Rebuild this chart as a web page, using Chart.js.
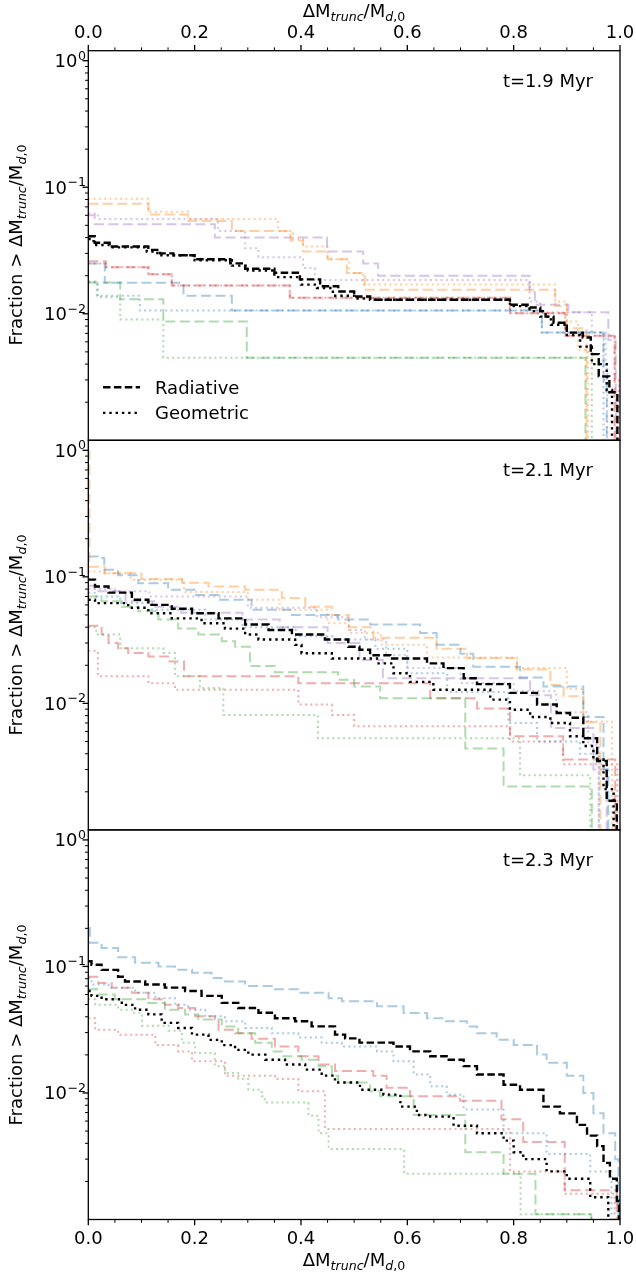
<!DOCTYPE html>
<html>
<head>
<meta charset="utf-8">
<script src="https://cdn.jsdelivr.net/npm/chart.js@4.4.0/dist/chart.umd.min.js"></script>
<style>
  html, body { margin: 0; padding: 0; background: #fff; }
  body { width: 636px; height: 1274px; position: relative; overflow: hidden;
         font-family: "DejaVu Sans", sans-serif; color: #000; }
  canvas { position: absolute; left: 0; }
  .lbl { position: absolute; font-size: 18px; line-height: 20px; white-space: nowrap; }
  .xt { transform: translateX(-50%); }
  .yt { transform: translate(-50%, -50%) rotate(-90deg); }
  .s { font-size: 0.7em; position: relative; top: 0.3em; }
  .i { font-style: italic; }
</style>
</head>
<body>
<canvas id="p1" width="636" height="450" style="top:0px"></canvas>
<canvas id="p2" width="636" height="410" style="top:430px"></canvas>
<canvas id="p3" width="636" height="454" style="top:820px"></canvas>

<div class="lbl xt" style="left:354px; top:1px">ΔM<span class="s i">trunc</span>/M<span class="s"><span class="i">d</span>,0</span></div>
<div class="lbl xt" style="left:354px; top:1250px">ΔM<span class="s i">trunc</span>/M<span class="s"><span class="i">d</span>,0</span></div>
<div class="lbl yt" style="left:17px; top:245px">Fraction &gt; ΔM<span class="s i">trunc</span>/M<span class="s"><span class="i">d</span>,0</span></div>
<div class="lbl yt" style="left:17px; top:635px">Fraction &gt; ΔM<span class="s i">trunc</span>/M<span class="s"><span class="i">d</span>,0</span></div>
<div class="lbl yt" style="left:17px; top:1025px">Fraction &gt; ΔM<span class="s i">trunc</span>/M<span class="s"><span class="i">d</span>,0</span></div>

<script>
// 축 범위와 눈금
const Y_MIN = 0.001;
const Y_MAX = 1.2;
const X_LABEL_TICKS = [0, 0.2, 0.4, 0.6, 0.8, 1.0];
const Y_LABEL_TICKS = [1, 0.1, 0.01];
const PANEL_TIMES = ["t=1.9 Myr", "t=2.1 Myr", "t=2.3 Myr"];
const LEGEND_NAMES = ["Radiative", "Geometric"];

// 각 곡선: [ΔM/M 시작점, 그 구간의 비율] 계단 데이터
// ---- t = 1.9 Myr ----
const T19_RAD_BLACK = [[0,0.041],[0.012,0.0364],[0.04,0.034],[0.113,0.032],[0.135,0.030],[0.16,0.029],[0.2,0.027],[0.267,0.025],[0.295,0.0227],[0.35,0.0211],[0.398,0.0187],[0.436,0.0165],[0.47,0.015],[0.5,0.0137],[0.53,0.0129],[0.793,0.0118],[0.83,0.0112],[0.85,0.0105],[0.86,0.0095],[0.875,0.0085],[0.9,0.0071],[0.93,0.0065],[0.945,0.0048],[0.96,0.0032],[0.98,0.0024],[0.995,0.001]];
const T19_GEO_BLACK = [[0,0.039],[0.01,0.035],[0.04,0.0335],[0.11,0.031],[0.13,0.029],[0.2,0.0265],[0.27,0.024],[0.3,0.022],[0.35,0.0195],[0.4,0.017],[0.43,0.016],[0.46,0.0139],[0.5,0.0132],[0.53,0.0129],[0.793,0.0115],[0.83,0.0105],[0.85,0.0095],[0.87,0.0082],[0.9,0.0068],[0.925,0.0055],[0.947,0.004],[0.975,0.0025],[0.985,0.001]];
const T19_RAD_BLUE = [[0,0.025],[0.031,0.0176],[0.179,0.0139],[0.27,0.0106],[0.853,0.0071],[0.969,0.003],[0.975,0.001]];
const T19_GEO_BLUE = [[0,0.018],[0.016,0.0139],[0.097,0.0106],[0.853,0.0071],[0.969,0.001]];
const T19_RAD_ORANGE = [[0,0.074],[0.113,0.061],[0.188,0.054],[0.27,0.045],[0.38,0.038],[0.404,0.031],[0.45,0.027],[0.486,0.021],[0.52,0.0155],[0.878,0.0115],[0.9,0.0077],[0.937,0.001]];
const T19_GEO_ORANGE = [[0,0.081],[0.113,0.064],[0.188,0.056],[0.357,0.045],[0.385,0.039],[0.404,0.034],[0.45,0.027],[0.49,0.021],[0.517,0.017],[0.878,0.0125],[0.9,0.0087],[0.921,0.0052],[0.94,0.001]];
const T19_RAD_GREEN = [[0,0.0177],[0.06,0.013],[0.141,0.0087],[0.298,0.0045],[0.935,0.001]];
const T19_GEO_GREEN = [[0,0.0177],[0.018,0.0135],[0.06,0.009],[0.141,0.0045],[0.947,0.001]];
const T19_RAD_RED = [[0,0.026],[0.033,0.0233],[0.113,0.0205],[0.157,0.0167],[0.379,0.0134],[0.793,0.0101],[0.897,0.0067],[0.99,0.001]];
const T19_GEO_RED = [[0,0.025],[0.033,0.0233],[0.113,0.0205],[0.157,0.0167],[0.379,0.0134],[0.793,0.0101],[0.897,0.0067],[0.99,0.003],[0.998,0.001]];
const T19_RAD_PURPLE = [[0,0.06],[0.012,0.051],[0.238,0.040],[0.449,0.031],[0.517,0.025],[0.545,0.020],[0.83,0.0148],[0.84,0.0118],[0.903,0.0103],[0.978,0.0062],[0.992,0.001]];
const T19_GEO_PURPLE = [[0,0.062],[0.018,0.056],[0.244,0.045],[0.295,0.033],[0.32,0.028],[0.404,0.023],[0.426,0.0185],[0.83,0.0125],[0.85,0.0103],[0.947,0.0071],[0.973,0.004],[0.976,0.001]];

// ---- t = 2.1 Myr ----
const T21_RAD_BLACK = [[0,0.095],[0.0126,0.084],[0.038,0.075],[0.082,0.066],[0.113,0.060],[0.157,0.056],[0.195,0.0515],[0.245,0.047],[0.295,0.042],[0.339,0.038],[0.383,0.035],[0.445,0.032],[0.489,0.028],[0.51,0.0265],[0.53,0.024],[0.568,0.0226],[0.637,0.0207],[0.668,0.019],[0.706,0.0158],[0.731,0.0142],[0.793,0.0121],[0.844,0.0098],[0.881,0.0084],[0.906,0.0077],[0.931,0.0053],[0.957,0.0035],[0.975,0.0017],[0.994,0.001]];
const T21_GEO_BLACK = [[0,0.066],[0.0126,0.062],[0.075,0.057],[0.113,0.0515],[0.157,0.047],[0.213,0.043],[0.257,0.039],[0.295,0.035],[0.32,0.032],[0.389,0.029],[0.401,0.0249],[0.458,0.0226],[0.543,0.0207],[0.574,0.0173],[0.605,0.0148],[0.649,0.0128],[0.756,0.0107],[0.793,0.0089],[0.831,0.0078],[0.869,0.007],[0.906,0.0055],[0.931,0.0046],[0.95,0.0036],[0.969,0.0021],[0.988,0.001]];
const T21_RAD_BLUE = [[0,0.145],[0.018,0.141],[0.03,0.114],[0.056,0.103],[0.094,0.089],[0.15,0.079],[0.2,0.072],[0.245,0.066],[0.307,0.055],[0.383,0.050],[0.47,0.046],[0.53,0.042],[0.624,0.036],[0.655,0.029],[0.7,0.0247],[0.724,0.0195],[0.812,0.016],[0.856,0.0136],[0.931,0.0078],[0.969,0.003],[0.978,0.001]];
const T21_GEO_BLUE = [[0,0.075],[0.015,0.07],[0.06,0.062],[0.12,0.055],[0.22,0.046],[0.29,0.04],[0.39,0.034],[0.46,0.032],[0.54,0.027],[0.6,0.0173],[0.675,0.0123],[0.79,0.007],[0.844,0.005],[0.925,0.004],[0.96,0.001]];
const T21_RAD_ORANGE = [[0.002,1.0],[0.002,0.12],[0.031,0.107],[0.1,0.096],[0.176,0.09],[0.226,0.084],[0.295,0.079],[0.364,0.068],[0.408,0.058],[0.458,0.05],[0.49,0.04],[0.536,0.033],[0.655,0.027],[0.712,0.0228],[0.806,0.0185],[0.869,0.014],[0.894,0.0114],[0.931,0.0071],[0.963,0.001]];
const T21_GEO_ORANGE = [[0,0.11],[0.03,0.107],[0.08,0.095],[0.18,0.076],[0.3,0.066],[0.36,0.055],[0.45,0.043],[0.49,0.036],[0.55,0.029],[0.637,0.023],[0.806,0.019],[0.9,0.013],[0.931,0.0072],[0.985,0.001]];
const T21_RAD_GREEN = [[0,0.07],[0.025,0.064],[0.063,0.058],[0.094,0.0535],[0.132,0.046],[0.169,0.039],[0.207,0.035],[0.251,0.031],[0.276,0.028],[0.304,0.0197],[0.351,0.0176],[0.47,0.0154],[0.5,0.0136],[0.549,0.011],[0.709,0.0044],[0.781,0.0022],[0.947,0.001]];
const T21_GEO_GREEN = [[0,0.04],[0.015,0.035],[0.06,0.0273],[0.141,0.025],[0.163,0.0164],[0.21,0.0132],[0.254,0.0081],[0.432,0.0053],[0.812,0.0027],[0.944,0.001]];
const T21_RAD_RED = [[0,0.041],[0.025,0.035],[0.038,0.030],[0.056,0.0273],[0.075,0.025],[0.113,0.0235],[0.15,0.0214],[0.18,0.0164],[0.395,0.0144],[0.643,0.011],[0.731,0.0091],[0.793,0.0055],[0.893,0.0036],[0.991,0.001]];
const T21_GEO_RED = [[0,0.026],[0.018,0.0164],[0.113,0.0144],[0.163,0.0128],[0.395,0.0098],[0.458,0.0081],[0.5,0.0066],[0.793,0.005],[0.893,0.0033],[0.995,0.001]];
const T21_RAD_PURPLE = [[0,0.085],[0.012,0.077],[0.07,0.064],[0.124,0.058],[0.175,0.052],[0.29,0.046],[0.36,0.040],[0.45,0.030],[0.51,0.022],[0.554,0.0158],[0.831,0.0116],[0.87,0.0064],[0.95,0.003],[0.975,0.001]];
const T21_GEO_PURPLE = [[0,0.08],[0.05,0.077],[0.115,0.07],[0.3,0.057],[0.43,0.048],[0.49,0.038],[0.52,0.032],[0.56,0.024],[0.6,0.019],[0.7,0.0145],[0.8,0.0125],[0.88,0.0085],[0.94,0.0047],[0.96,0.001]];

// ---- t = 2.3 Myr (주황·보라 없음) ----
const T23_RAD_BLACK = [[0,0.11],[0.006,0.103],[0.025,0.094],[0.056,0.083],[0.069,0.076],[0.107,0.072],[0.144,0.068],[0.182,0.064],[0.213,0.0585],[0.251,0.0515],[0.282,0.047],[0.32,0.043],[0.351,0.039],[0.389,0.0369],[0.42,0.0336],[0.464,0.0289],[0.483,0.027],[0.51,0.025],[0.574,0.0233],[0.605,0.0213],[0.643,0.0195],[0.674,0.0183],[0.706,0.0163],[0.731,0.014],[0.781,0.0116],[0.812,0.0106],[0.856,0.0078],[0.887,0.0069],[0.919,0.0056],[0.938,0.0046],[0.957,0.0038],[0.969,0.0028],[0.981,0.0021],[0.994,0.0014],[0.998,0.001]];
const T23_GEO_BLACK = [[0,0.064],[0.006,0.0585],[0.025,0.055],[0.063,0.0497],[0.088,0.0455],[0.113,0.0418],[0.138,0.0358],[0.169,0.0326],[0.195,0.0289],[0.226,0.0263],[0.251,0.0239],[0.276,0.0219],[0.301,0.0201],[0.333,0.0183],[0.37,0.0168],[0.408,0.0153],[0.439,0.0137],[0.464,0.0121],[0.511,0.0106],[0.555,0.0097],[0.587,0.0078],[0.618,0.0067],[0.643,0.0065],[0.687,0.0055],[0.731,0.0048],[0.781,0.0042],[0.8,0.0034],[0.818,0.003],[0.862,0.0024],[0.9,0.0021],[0.944,0.0015],[0.978,0.001]];
const T23_RAD_BLUE = [[0,0.2],[0.003,0.154],[0.025,0.14],[0.056,0.118],[0.088,0.107],[0.132,0.1],[0.163,0.094],[0.195,0.089],[0.232,0.081],[0.257,0.076],[0.295,0.07],[0.345,0.066],[0.395,0.062],[0.452,0.056],[0.477,0.0532],[0.543,0.0484],[0.593,0.0428],[0.637,0.0389],[0.668,0.0369],[0.712,0.0336],[0.731,0.0296],[0.768,0.0263],[0.8,0.0239],[0.844,0.0201],[0.862,0.0173],[0.9,0.0137],[0.931,0.01],[0.95,0.0069],[0.969,0.0048],[0.991,0.003],[0.997,0.001]];
const T23_GEO_BLUE = [[0,0.081],[0.006,0.072],[0.038,0.068],[0.088,0.062],[0.126,0.056],[0.163,0.0497],[0.188,0.0455],[0.22,0.0404],[0.257,0.0369],[0.295,0.0326],[0.345,0.0296],[0.395,0.0275],[0.439,0.0249],[0.477,0.0233],[0.543,0.0213],[0.574,0.0178],[0.612,0.014],[0.643,0.0113],[0.674,0.0097],[0.706,0.0074],[0.781,0.0048],[0.862,0.0033],[0.944,0.0024],[0.984,0.001]];
const T23_RAD_RED = [[0,0.083],[0.019,0.074],[0.044,0.068],[0.082,0.062],[0.113,0.055],[0.144,0.0497],[0.169,0.047],[0.201,0.0404],[0.238,0.038],[0.245,0.0316],[0.276,0.0296],[0.307,0.0268],[0.351,0.0233],[0.395,0.0195],[0.433,0.0168],[0.464,0.0149],[0.536,0.0137],[0.561,0.011],[0.605,0.0094],[0.699,0.0087],[0.777,0.0062],[0.818,0.0041],[0.896,0.0017],[0.994,0.001]];
const T23_GEO_RED = [[0,0.039],[0.013,0.0316],[0.056,0.0289],[0.126,0.0239],[0.169,0.0213],[0.195,0.0178],[0.257,0.0137],[0.351,0.0129],[0.395,0.0103],[0.445,0.0052],[0.793,0.0024],[0.896,0.0016],[0.99,0.001]];
const T23_RAD_GREEN = [[0,0.066],[0.019,0.06],[0.05,0.055],[0.113,0.0515],[0.144,0.0455],[0.182,0.0418],[0.207,0.038],[0.251,0.0336],[0.282,0.0296],[0.314,0.0249],[0.345,0.0213],[0.364,0.0195],[0.401,0.0183],[0.433,0.0163],[0.458,0.0137],[0.47,0.0121],[0.53,0.0103],[0.549,0.0094],[0.612,0.0067],[0.709,0.0034],[0.781,0.0023],[0.841,0.0011],[0.946,0.001]];
const T23_GEO_GREEN = [[0,0.055],[0.013,0.0497],[0.056,0.0455],[0.082,0.043],[0.101,0.034],[0.151,0.0311],[0.176,0.0249],[0.201,0.0207],[0.238,0.0163],[0.257,0.0144],[0.282,0.0129],[0.301,0.0106],[0.326,0.0094],[0.332,0.0084],[0.414,0.0066],[0.433,0.0048],[0.452,0.0036],[0.594,0.0023],[0.813,0.0011],[0.946,0.001]];

// 스타일
const FONT = '"DejaVu Sans", sans-serif';
const ALPHA = 0.38;
const BLUE = `rgba(31, 119, 180, ${ALPHA})`;
const ORANGE = `rgba(255, 127, 14, ${ALPHA})`;
const GREEN = `rgba(44, 160, 44, ${ALPHA})`;
const RED = `rgba(214, 39, 40, ${ALPHA})`;
const PURPLE = `rgba(148, 103, 189, ${ALPHA})`;
const DASH = [10, 4.5], DOT = [2, 3.3];
const DASH_K = [7.5, 3.4], DOT_K = [2.4, 3.9];

function line(points, color, rad, black) {
  return {
    data: points.map(([x, y]) => ({ x, y })),
    borderColor: black ? "#000" : color,
    borderWidth: black ? 2.4 : 2,
    borderDash: black ? (rad ? DASH_K : DOT_K) : (rad ? DASH : DOT),
    borderCapStyle: "butt",
    borderJoinStyle: "miter",
    stepped: true,
    fill: false,
    pointRadius: 0,
  };
}

// 틀, 눈금, 로그 눈금 라벨, 시각 표시, 범례
const decor = {
  id: "decor",
  afterDatasetsDraw(chart, args, o) {
    const { ctx, chartArea: a } = chart;
    const y = chart.scales.y, x = chart.scales.x;
    ctx.save();
    ctx.strokeStyle = "#000";
    ctx.fillStyle = "#000";
    ctx.setLineDash([]);
    ctx.lineWidth = 1.3;
    ctx.strokeRect(a.left, a.top, a.right - a.left, a.bottom - a.top);

    for (let k = -3; k <= 0; k++) {
      for (let m = 1; m <= 9; m++) {
        const v = m * Math.pow(10, k);
        if (v <= Y_MIN * 1.001 || v > Y_MAX) continue;
        const py = y.getPixelForValue(v);
        const major = m === 1;
        ctx.lineWidth = major ? 1.3 : 1;
        ctx.beginPath();
        ctx.moveTo(a.left - (major ? 5.8 : 3.3), py);
        ctx.lineTo(a.left, py);
        ctx.stroke();
      }
    }

    if (o.xSide) {
      for (let i = 0; i <= 20; i++) {
        const px = x.getPixelForValue(i / 20);
        const len = i % 4 === 0 ? 5.8 : 3.3;
        ctx.lineWidth = i % 4 === 0 ? 1.3 : 1;
        ctx.beginPath();
        if (o.xSide === "top") { ctx.moveTo(px, a.top); ctx.lineTo(px, a.top - len); }
        else { ctx.moveTo(px, a.bottom); ctx.lineTo(px, a.bottom + len); }
        ctx.stroke();
      }
    }

    ctx.textAlign = "right";
    ctx.textBaseline = "alphabetic";
    for (const v of Y_LABEL_TICKS) {
      const py = y.getPixelForValue(v);
      const e = Math.round(Math.log10(v));
      const sup = e === 0 ? "0" : "\u2212" + (-e);
      ctx.font = `12.6px ${FONT}`;
      const ws = ctx.measureText(sup).width;
      ctx.fillText(sup, a.left - 2.3, py - 1);
      ctx.font = `18px ${FONT}`;
      ctx.fillText("10", a.left - 2.8 - ws, py + 6.5);
    }

    ctx.font = `18px ${FONT}`;
    ctx.fillText(o.time, a.right - 27, a.top + 36);

    if (o.legend) {
      ctx.textAlign = "left";
      LEGEND_NAMES.forEach((name, i) => {
        const yy = a.bottom - 53 + i * 25.6;
        ctx.lineWidth = 2.4;
        ctx.lineCap = "butt";
        ctx.setLineDash(i === 0 ? DASH_K : DOT_K);
        ctx.beginPath();
        ctx.moveTo(a.left + 14.7, yy);
        ctx.lineTo(a.left + 51.7, yy);
        ctx.stroke();
        ctx.setLineDash([]);
        ctx.fillText(name, a.left + 66.7, yy + 6.5);
      });
    }
    ctx.restore();
  },
};

function panel(id, datasets, o) {
  new Chart(document.getElementById(id), {
    type: "line",
    data: { datasets },
    options: {
      responsive: false,
      animation: false,
      events: [],
      layout: { padding: { left: 0, right: 16, top: o.padTop, bottom: o.padBottom } },
      plugins: {
        legend: { display: false },
        tooltip: { enabled: false },
        decor: { xSide: o.xSide, time: o.time, legend: o.legend },
      },
      scales: {
        x: {
          type: "linear",
          min: 0,
          max: 1,
          display: !!o.xSide,
          position: o.xSide || "bottom",
          grid: { display: false, drawTicks: false },
          border: { display: false },
          ticks: {
            color: "#000",
            font: { family: FONT, size: 18 },
            padding: o.xSide === "top" ? 6.5 : 8.7,
            maxRotation: 0,
            autoSkip: false,
            callback: (v) => Number(v).toFixed(1),
          },
          afterBuildTicks: (s) => { s.ticks = X_LABEL_TICKS.map((v) => ({ value: v })); },
          afterFit: (s) => { s.height = o.xHeight; s.paddingLeft = 0; s.paddingRight = 0; },
        },
        y: {
          type: "logarithmic",
          min: Y_MIN,
          max: Y_MAX,
          ticks: { display: false },
          grid: { display: false, drawTicks: false },
          border: { display: false },
          afterFit: (s) => { s.width = 88.3; },
        },
      },
    },
    plugins: [decor],
  });
}

panel("p1", [
  line(T19_RAD_BLACK, null, true, true),
  line(T19_GEO_BLACK, null, false, true),
  line(T19_RAD_BLUE, BLUE, true), line(T19_GEO_BLUE, BLUE, false),
  line(T19_RAD_ORANGE, ORANGE, true), line(T19_GEO_ORANGE, ORANGE, false),
  line(T19_RAD_GREEN, GREEN, true), line(T19_GEO_GREEN, GREEN, false),
  line(T19_RAD_RED, RED, true), line(T19_GEO_RED, RED, false),
  line(T19_RAD_PURPLE, PURPLE, true), line(T19_GEO_PURPLE, PURPLE, false),
], { padTop: 0, padBottom: 9.7, xSide: "top", xHeight: 50.7, time: PANEL_TIMES[0], legend: true });

panel("p2", [
  line(T21_RAD_BLACK, null, true, true),
  line(T21_GEO_BLACK, null, false, true),
  line(T21_RAD_BLUE, BLUE, true), line(T21_GEO_BLUE, BLUE, false),
  line(T21_RAD_ORANGE, ORANGE, true), line(T21_GEO_ORANGE, ORANGE, false),
  line(T21_RAD_GREEN, GREEN, true), line(T21_GEO_GREEN, GREEN, false),
  line(T21_RAD_RED, RED, true), line(T21_GEO_RED, RED, false),
  line(T21_RAD_PURPLE, PURPLE, true), line(T21_GEO_PURPLE, PURPLE, false),
], { padTop: 10.3, padBottom: 10.1, xSide: null, xHeight: 0, time: PANEL_TIMES[1], legend: false });

panel("p3", [
  line(T23_RAD_BLACK, null, true, true),
  line(T23_GEO_BLACK, null, false, true),
  line(T23_RAD_BLUE, BLUE, true), line(T23_GEO_BLUE, BLUE, false),
  line(T23_RAD_GREEN, GREEN, true), line(T23_GEO_GREEN, GREEN, false),
  line(T23_RAD_RED, RED, true), line(T23_GEO_RED, RED, false),
], { padTop: 9.9, padBottom: 0, xSide: "bottom", xHeight: 54.5, time: PANEL_TIMES[2], legend: false });
</script>
</body>
</html>
